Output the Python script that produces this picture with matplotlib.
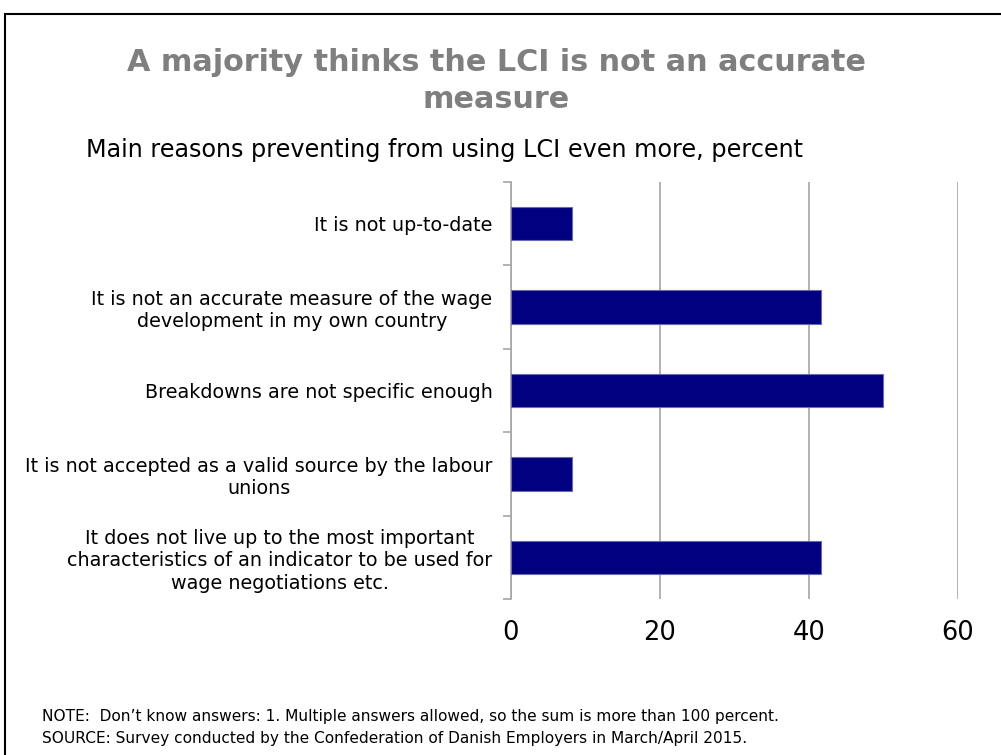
import matplotlib
matplotlib.use("Agg")
from matplotlib import pyplot as plt
from matplotlib.patches import Rectangle
import numpy as np

reasons = [
    "It is not up-to-date",
    "It is not an accurate measure of the wage\ndevelopment in my own country",
    "Breakdowns are not specific enough",
    "It is not accepted as a valid source by the labour\nunions",
    "It does not live up to the most important\ncharacteristics of an indicator to be used for\nwage negotiations etc.",
]
percent = [8.3, 41.7, 50.0, 8.3, 41.7]
xticks = [0, 20, 40, 60]

plt.rcParams['font.family'] = ['DejaVu Sans']

fig = plt.figure(figsize=(10.01, 7.55), dpi=100)
ax = fig.add_axes([0.510, 0.2066, 0.447, 0.5524])

# first category on top
pos = np.arange(len(reasons))[::-1]
ax.barh(pos, percent, height=0.4, color="#000080", edgecolor="#6b6bb0",
        linewidth=0.8, zorder=3)

ax.set_xlim(0, 60)
ax.set_ylim(-0.5, len(reasons) - 0.5)
ax.set_xticks(xticks)
ax.set_xticklabels([str(v) for v in xticks], fontsize=18.5)
ax.tick_params(axis="x", length=0, pad=15)
ax.xaxis.grid(True, color="#a6a6a6", linewidth=1.2, zorder=0)

ax.set_yticks(pos)
ax.set_yticklabels(reasons, fontsize=13.8, multialignment="center",
                   linespacing=1.22)
ax.tick_params(axis="y", which="major", length=0, pad=13)
ax.set_yticks(np.arange(len(reasons) + 1) - 0.5, minor=True)
ax.tick_params(axis="y", which="minor", length=6, color="#a6a6a6", width=1.2)

for s in ["top", "right", "bottom"]:
    ax.spines[s].set_visible(False)
ax.spines["left"].set_color("#a6a6a6")
ax.spines["left"].set_linewidth(1.2)

# title on two lines
fig.text(0.496, 1 - 71 / 755, "A majority thinks the LCI is not an accurate",
         ha="center", va="baseline", fontsize=21.8, fontweight="bold",
         color="#7f7f7f")
fig.text(0.496, 1 - 108 / 755, "measure",
         ha="center", va="baseline", fontsize=21.8, fontweight="bold",
         color="#7f7f7f")
fig.text(0.086, 1 - 157 / 755, "Main reasons preventing from using LCI even more, percent",
         ha="left", va="baseline", fontsize=17.2)
fig.text(0.042, 1 - 721 / 755,
         "NOTE:  Don\u2019t know answers: 1. Multiple answers allowed, so the sum is more than 100 percent.",
         ha="left", va="baseline", fontsize=11.1)
fig.text(0.042, 1 - 743 / 755,
         "SOURCE: Survey conducted by the Confederation of Danish Employers in March/April 2015.",
         ha="left", va="baseline", fontsize=11.1)

# frame round the whole chart
fig.patches.append(Rectangle((0.005, -0.05), 1.1, 1.0315,
                             transform=fig.transFigure, fill=False,
                             edgecolor="black", linewidth=1.5))

fig.savefig("out.png", dpi=100)
